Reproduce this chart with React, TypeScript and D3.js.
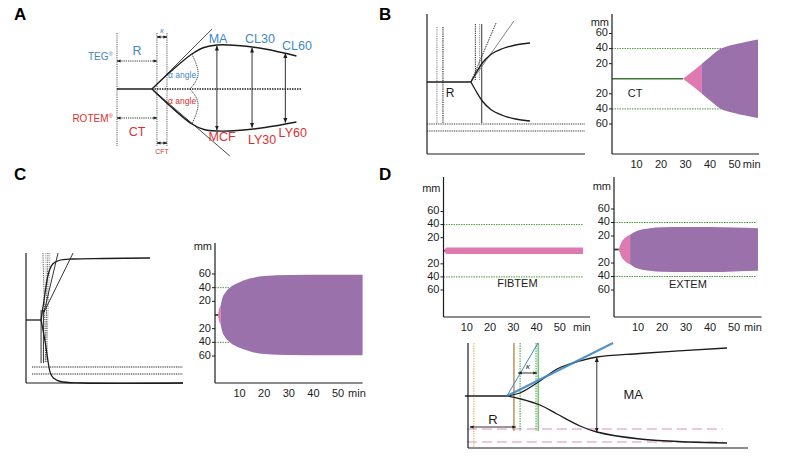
import React from 'react';
import * as d3 from 'd3';

const FONT = '"Liberation Sans", Arial, Helvetica, sans-serif';
const PURPLE = '#9a71aa';
const PINK = '#df79b1';
const GREEN_DOT = '#4c9a3c';
const GREEN_SOLID = '#3a7a30';
const BLUE = '#3f88c2';
const RED = '#d8322f';
const INK = '#1c1c1c';
const GREY = '#6a6a6a';

// ---------- Panel A (schematic units: x 0..100, amplitude -60..60) ----------
const aUpper: number[][] = [[18.9, 0], [29, 17.5], [40.5, 35], [47, 41.5], [54, 44], [65, 43.5], [80, 40], [97, 33]];
const aLower: number[][] = [[18.9, 0], [29, -17.5], [40.5, -35], [47, -40.5], [54, -42], [65, -41.5], [80, -38.5], [97, -33]];
const aTangentUp: number[][] = [[18.9, 0], [51.4, 60]];
const aTangentDown: number[][] = [[18.9, 0], [61, -67]];
const aArcUp: number[][] = [[40.5, 35], [43.8, 15], [39.5, 0]];
const aArcDown: number[][] = [[39.5, 0], [43.8, -15], [40.5, -35]];
const aVLines = [0, 21.6, 27];
const aArrows = [{ x: 54, top: 43, bottom: -41 }, { x: 73, top: 41, bottom: -38.5 }, { x: 91, top: 35.5, bottom: -33.5 }];
const aBlueLabels = [{ t: 'MA', x: 54.6, y: 49 }, { t: 'CL30', x: 77.3, y: 49 }, { t: 'CL60', x: 97.3, y: 42 }, { t: 'R', x: 10.8, y: 37 }];
const aRedLabels = [{ t: 'MCF', x: 56.8, y: -49 }, { t: 'LY30', x: 78.4, y: -51.5 }, { t: 'LY60', x: 95, y: -45 }, { t: 'CT', x: 10.8, y: -44 }];

// ---------- Panel B left ----------
const bUpper: number[][] = [[27.8, 0], [31, 9], [35, 19], [40, 27], [48, 33.5], [56, 37], [65.2, 39]];
const bLower: number[][] = bUpper.map(p => [p[0], -p[1]]);
const bDotted = [6.3, 10.1];
const bTangents: number[][][] = [[[27.8, 0], [43.7, 59]], [[27.8, 0], [55, 61]]];
const bHLines = [-42, -49];

// ---------- Panel C left ----------
const cUpper: number[][] = [[9.6, 0], [11.5, 20], [13.4, 40], [15, 50], [17, 56], [21, 59.5], [30, 61], [50, 61.5], [79, 62]];
const cLower: number[][] = [[9.6, 0], [12, -20], [13, -30], [14.2, -43], [15.5, -53], [17.5, -58], [22, -61.5], [36, -63], [100, -63]];
const cDotted: number[][][] = [[[10.8, 67], [12.7, -43]], [[12.6, 67], [13.6, -43]], [[14, 67], [12.2, -43]], [[15.2, 67], [13, -43]]];
const cTangents: number[][][] = [[[11.5, 8], [20.4, 67]], [[11.5, 8], [30, 67]]];
const cHLines = [-47, -54];

// ---------- Panel D bottom ----------
const dUpper: number[][] = [[13.9, 0], [18.9, 3.5], [25.7, 15], [31.8, 27], [40, 35], [46, 39], [61.4, 42.5], [92.5, 48]];
const dLower: number[][] = [[13.9, 0], [18.9, -3], [25.7, -9], [31.8, -18], [40, -30], [46, -36], [61.4, -43], [78.6, -46], [92.5, -47]];
const dBlueThin: number[][] = [[13.9, 0], [25, 53]];
const dBlueThick: number[][] = [[13.9, 0], [51.8, 53]];
const dPinkDash = [-33, -46];

// ---------- ROTEM traces (t in min, amplitude in mm) ----------
const bPinkT = [29, 33, 36.7];
const bPinkA = [0, 10, 20];
const bPurpleT = [36.7, 40, 44, 49.4, 55, 59.6];
const bPurpleA = [20, 29, 39, 45, 49, 52];

const cPinkT = [1.2, 1.6, 2.3];
const cPinkA = [0, 8, 14];
const cPurpleT = [2.3, 3, 4, 6, 10, 15, 20, 30, 45, 60];
const cPurpleA = [14, 25, 32, 40, 48, 54, 57, 58.5, 59, 59];

const fibPinkT = [0.4, 0.8, 1.5, 60];
const fibPinkA = [0, 3.5, 4.8, 5];

const extPinkT = [2, 3, 4.5, 6.7];
const extPinkA = [0, 10, 17, 22];
const extPurpleT = [6.7, 8, 10, 15, 20, 30, 40, 50, 60];
const extPurpleA = [22, 25, 28, 31.5, 33, 33.5, 33.5, 32.5, 31.5];

const yTicks = [60, 40, 20, -20, -40, -60];
const xTicks = [10, 20, 30, 40, 50];

const zip = (t: number[], a: number[]) => t.map((v, i) => ({ t: v, a: a[i] }));

function path(pts: number[][], xs: any, ys: any, curve: any = d3.curveLinear) {
  return d3.line<number[]>().x(d => xs(d[0])).y(d => ys(d[1])).curve(curve)(pts) || '';
}

type TemCfg = {
  left: number; right: number; axisTop: number; axisBottom: number; y60: number; yM60: number;
  mmY: number; axisEnd: number; minAt: number; greenEnd: number; stubEnd: number; stubGreen?: number;
  label?: string; labelT?: number; labelA?: number;
};

function Tem({ cfg, pink, purple }: { cfg: TemCfg; pink: { t: number; a: number }[]; purple?: { t: number; a: number }[] }) {
  const x = d3.scaleLinear().domain([0, 60]).range([cfg.left, cfg.right]);
  const y = d3.scaleLinear().domain([-60, 60]).range([cfg.yM60, cfg.y60]);
  const area = d3.area<{ t: number; a: number }>().x(d => x(d.t)).y0(d => y(-d.a)).y1(d => y(d.a)).curve(d3.curveMonotoneX);
  return (
    <g fontFamily={FONT} fontSize={11} fill={INK}>
      {[40, -40].map(v => (
        <line key={v} x1={x(0)} x2={x(cfg.greenEnd)} y1={y(v)} y2={y(v)} stroke={GREEN_DOT} strokeWidth={1} strokeDasharray="1.5,1" />
      ))}
      {cfg.stubGreen ? (
        <line x1={x(0)} x2={x(cfg.stubGreen)} y1={y(0)} y2={y(0)} stroke={GREEN_SOLID} strokeWidth={1.6} />
      ) : null}
      <line x1={x(0)} x2={x(cfg.stubEnd)} y1={y(0)} y2={y(0)} stroke="#2d4a28" strokeWidth={1.8} />
      <path d={area(pink) || ''} fill={PINK} />
      {purple ? <path d={area(purple) || ''} fill={PURPLE} /> : null}
      <line x1={cfg.left} x2={cfg.left} y1={cfg.axisTop} y2={cfg.axisBottom} stroke={INK} strokeWidth={1.2} />
      <line x1={cfg.left} x2={x(cfg.axisEnd)} y1={cfg.axisBottom} y2={cfg.axisBottom} stroke={INK} strokeWidth={1.2} />
      <text x={cfg.left - 3} y={cfg.mmY} textAnchor="end" dominantBaseline="middle">mm</text>
      {yTicks.map(v => (
        <g key={v}>
          <line x1={cfg.left - 3} x2={cfg.left} y1={y(v)} y2={y(v)} stroke={INK} strokeWidth={1} />
          <text x={cfg.left - 4} y={y(v)} textAnchor="end" dominantBaseline="middle">{Math.abs(v)}</text>
        </g>
      ))}
      {xTicks.map(v => (
        <text key={v} x={x(v)} y={cfg.axisBottom + 11} textAnchor="middle" dominantBaseline="middle">{v}</text>
      ))}
      <text x={x(cfg.minAt)} y={cfg.axisBottom + 11} textAnchor="middle" dominantBaseline="middle">min</text>
      {cfg.label ? (
        <text x={x(cfg.labelT!)} y={y(cfg.labelA!)} textAnchor="middle" dominantBaseline="middle">{cfg.label}</text>
      ) : null}
    </g>
  );
}

const cfgB: TemCfg = { left: 612, right: 759, axisTop: 14, axisBottom: 154, y60: 33.5, yM60: 124, mmY: 23, axisEnd: 60, minAt: 57, greenEnd: 46, stubEnd: 0, stubGreen: 29, label: 'CT', labelT: 9.4, labelA: -20 };
const cfgC: TemCfg = { left: 215, right: 362.6, axisTop: 243, axisBottom: 383, y60: 274, yM60: 356, mmY: 247, axisEnd: 60, minAt: 57.7, greenEnd: 6, stubEnd: 1.3 };
const cfgF: TemCfg = { left: 443.5, right: 583, axisTop: 177, axisBottom: 317, y60: 211.5, yM60: 290, mmY: 189, axisEnd: 63, minAt: 59.5, greenEnd: 60, stubEnd: 0.8, label: 'FIBTEM', labelT: 31.8, labelA: -51 };
const cfgE: TemCfg = { left: 614, right: 758, axisTop: 177, axisBottom: 317, y60: 209, yM60: 290, mmY: 187, axisEnd: 61.5, minAt: 57.9, greenEnd: 59, stubEnd: 2, label: 'EXTEM', labelT: 30.8, labelA: -52 };

function Markers() {
  return (
    <defs>
      <marker id="ah" viewBox="0 0 10 10" refX="9" refY="5" markerWidth="5" markerHeight="5" orient="auto-start-reverse" markerUnits="userSpaceOnUse">
        <path d="M0,1L10,5L0,9z" fill={INK} />
      </marker>
      <marker id="ahs" viewBox="0 0 10 10" refX="9" refY="5" markerWidth="4" markerHeight="4" orient="auto-start-reverse" markerUnits="userSpaceOnUse">
        <path d="M0,1L10,5L0,9z" fill={INK} />
      </marker>
    </defs>
  );
}

function PanelA() {
  const x = d3.scaleLinear().domain([0, 100]).range([117, 302]);
  const y = d3.scaleLinear().domain([-60, 60]).range([149, 29]);
  const cr = d3.curveCatmullRom.alpha(0.5);
  return (
    <g fontFamily={FONT}>
      {aVLines.map(v => (
        <line key={v} x1={x(v)} x2={x(v)} y1={y(56)} y2={y(-57)} stroke={GREY} strokeWidth={1.1} strokeDasharray="1.2,1" />
      ))}
      <line x1={x(0)} x2={x(18.9)} y1={y(0)} y2={y(0)} stroke={INK} strokeWidth={1.3} />
      <line x1={x(18.9)} x2={x(100)} y1={y(0)} y2={y(0)} stroke={INK} strokeWidth={1.3} strokeDasharray="1.5,1" />
      <path d={path(aTangentUp, x, y)} stroke={INK} strokeWidth={0.8} fill="none" />
      <path d={path(aTangentDown, x, y)} stroke={INK} strokeWidth={0.8} fill="none" />
      <path d={path(aUpper, x, y, cr)} stroke={INK} strokeWidth={1.4} fill="none" />
      <path d={path(aLower, x, y, cr)} stroke={INK} strokeWidth={1.4} fill="none" />
      <path d={path(aArcUp, x, y, d3.curveNatural)} stroke={INK} strokeWidth={0.8} strokeDasharray="1.2,0.8" fill="none" />
      <path d={path(aArcDown, x, y, d3.curveNatural)} stroke={INK} strokeWidth={0.8} strokeDasharray="1.2,0.8" fill="none" />
      {aArrows.map(a => (
        <line key={a.x} x1={x(a.x)} x2={x(a.x)} y1={y(a.top)} y2={y(a.bottom)} stroke={INK} strokeWidth={0.9} markerStart="url(#ah)" markerEnd="url(#ah)" />
      ))}
      <line x1={x(0)} x2={x(21.6)} y1={y(28)} y2={y(28)} stroke={INK} strokeWidth={0.9} strokeDasharray="1.2,1" markerStart="url(#ahs)" markerEnd="url(#ahs)" />
      <line x1={x(0)} x2={x(21.6)} y1={y(-29)} y2={y(-29)} stroke={INK} strokeWidth={0.9} strokeDasharray="1.2,1" markerStart="url(#ahs)" markerEnd="url(#ahs)" />
      <line x1={x(21.6)} x2={x(27)} y1={y(52)} y2={y(52)} stroke={INK} strokeWidth={0.8} markerStart="url(#ahs)" markerEnd="url(#ahs)" />
      <line x1={x(21.6)} x2={x(27)} y1={y(-54)} y2={y(-54)} stroke={INK} strokeWidth={0.8} markerStart="url(#ahs)" markerEnd="url(#ahs)" />
      {aBlueLabels.map(l => (
        <text key={l.t} x={x(l.x)} y={y(l.y)} fill={BLUE} fontSize={12.5} textAnchor="middle" dominantBaseline="middle">{l.t}</text>
      ))}
      {aRedLabels.map(l => (
        <text key={l.t} x={x(l.x)} y={y(l.y)} fill={RED} fontSize={12.5} textAnchor="middle" dominantBaseline="middle">{l.t}</text>
      ))}
      <text x={x(-2.2)} y={y(32)} fill={BLUE} fontSize={10} textAnchor="end" dominantBaseline="middle">TEG<tspan fontSize={6} dy={-3}>®</tspan></text>
      <text x={x(-2.2)} y={y(-30)} fill={RED} fontSize={10} textAnchor="end" dominantBaseline="middle">ROTEM<tspan fontSize={6} dy={-3}>®</tspan></text>
      <text x={x(27.6)} y={y(13)} fill={BLUE} fontSize={8.5} dominantBaseline="middle">α angle</text>
      <text x={x(27.6)} y={y(-13)} fill={RED} fontSize={8.5} dominantBaseline="middle">α angle</text>
      <text x={x(24.3)} y={y(57.5)} fill={BLUE} fontSize={7} fontStyle="italic" textAnchor="middle" dominantBaseline="middle">κ</text>
      <text x={x(24.3)} y={y(-63)} fill={RED} fontSize={7} textAnchor="middle" dominantBaseline="middle">CFT</text>
    </g>
  );
}

function PanelBLeft() {
  const x = d3.scaleLinear().domain([0, 100]).range([427, 585]);
  const y = d3.scaleLinear().domain([-60, 60]).range([142, 22]);
  const mc = d3.curveMonotoneX;
  return (
    <g fontFamily={FONT}>
      {bHLines.map(v => (
        <line key={v} x1={x(0)} x2={x(100)} y1={y(v)} y2={y(v)} stroke="#777" strokeWidth={1.6} strokeDasharray="1,0.8" />
      ))}
      <line x1={x(bDotted[0])} x2={x(bDotted[0])} y1={y(55)} y2={y(-41)} stroke="#888" strokeWidth={1.1} strokeDasharray="1.2,1" />
      <line x1={x(bDotted[1])} x2={x(bDotted[1])} y1={y(55)} y2={y(-41)} stroke={INK} strokeWidth={1.1} strokeDasharray="1.2,1" />
      <line x1={x(30.6)} x2={x(30.6)} y1={y(58)} y2={y(2)} stroke={INK} strokeWidth={1} strokeDasharray="1.2,1" />
      <line x1={x(33.3)} x2={x(33.3)} y1={y(58)} y2={y(2)} stroke="#888" strokeWidth={1} strokeDasharray="1.2,1" />
      <line x1={x(34.6)} x2={x(34.6)} y1={y(58)} y2={y(-41)} stroke="#555" strokeWidth={1.2} />
      <path d={path(bTangents[0], x, y)} stroke={INK} strokeWidth={0.9} strokeDasharray="1.5,1" fill="none" />
      <path d={path(bTangents[1], x, y)} stroke="#777" strokeWidth={0.9} fill="none" />
      <line x1={x(0)} x2={x(27.8)} y1={y(0)} y2={y(0)} stroke={INK} strokeWidth={1.3} />
      <path d={path(bUpper, x, y, mc)} stroke={INK} strokeWidth={1.3} fill="none" />
      <path d={path(bLower, x, y, mc)} stroke={INK} strokeWidth={1.3} fill="none" />
      <text x={x(14.6)} y={y(-12)} fontSize={12} fill={INK} textAnchor="middle" dominantBaseline="middle">R</text>
      <line x1={x(0)} x2={x(0)} y1={y(68)} y2={y(-72)} stroke={INK} strokeWidth={1.2} />
      <line x1={x(0)} x2={x(100)} y1={y(-72)} y2={y(-72)} stroke={INK} strokeWidth={1.2} />
    </g>
  );
}

function PanelCLeft() {
  const x = d3.scaleLinear().domain([0, 100]).range([26, 183]);
  const y = d3.scaleLinear().domain([-60, 60]).range([380, 260]);
  return (
    <g>
      {cHLines.map(v => (
        <line key={v} x1={x(3.8)} x2={x(100)} y1={y(v)} y2={y(v)} stroke="#666" strokeWidth={1.5} strokeDasharray="1,0.8" />
      ))}
      {cDotted.map((l, i) => (
        <path key={i} d={path(l, x, y)} stroke={i % 2 ? '#999' : '#555'} strokeWidth={1} strokeDasharray="1.2,1" fill="none" />
      ))}
      {cTangents.map((l, i) => (
        <path key={i} d={path(l, x, y)} stroke={INK} strokeWidth={0.9} fill="none" />
      ))}
      <line x1={x(9.6)} x2={x(9.6)} y1={y(10)} y2={y(-43)} stroke={INK} strokeWidth={0.9} />
      <line x1={x(11.1)} x2={x(11.1)} y1={y(10)} y2={y(-43)} stroke={INK} strokeWidth={0.9} />
      <line x1={x(0)} x2={x(9.6)} y1={y(0)} y2={y(0)} stroke={INK} strokeWidth={1.3} />
      <path d={path(cUpper, x, y, d3.curveCatmullRom)} stroke={INK} strokeWidth={1.3} fill="none" />
      <path d={path(cLower, x, y, d3.curveCatmullRom)} stroke={INK} strokeWidth={1.3} fill="none" />
      <line x1={x(0)} x2={x(0)} y1={y(67)} y2={y(-63)} stroke={INK} strokeWidth={1.2} />
      <line x1={x(0)} x2={x(100)} y1={y(-63)} y2={y(-63)} stroke={INK} strokeWidth={1.2} />
    </g>
  );
}

function PanelDBottom() {
  const x = d3.scaleLinear().domain([0, 100]).range([468, 748]);
  const y = d3.scaleLinear().domain([-60, 60]).range([456, 336]);
  const cr = d3.curveCatmullRom;
  return (
    <g fontFamily={FONT}>
      {dPinkDash.map(v => (
        <line key={v} x1={x(-0.4)} x2={x(91)} y1={y(v)} y2={y(v)} stroke="#d792bd" strokeWidth={1.2} strokeDasharray="10,5" />
      ))}
      <line x1={x(2.1)} x2={x(2.1)} y1={y(53)} y2={y(-52)} stroke="#e6a85a" strokeWidth={1} strokeDasharray="1.5,1" />
      <line x1={x(16.4)} x2={x(16.4)} y1={y(53)} y2={y(-35)} stroke="#c49a62" strokeWidth={1.6} />
      <line x1={x(18.6)} x2={x(18.6)} y1={y(53)} y2={y(-35)} stroke="#3c9a3c" strokeWidth={1} strokeDasharray="1.5,1" />
      <line x1={x(24.3)} x2={x(24.3)} y1={y(53)} y2={y(-35)} stroke="#3c9a3c" strokeWidth={1} strokeDasharray="1.5,1" />
      <line x1={x(25.1)} x2={x(25.1)} y1={y(53)} y2={y(-35)} stroke="#7cc07c" strokeWidth={1.6} />
      <path d={path(dBlueThin, x, y)} stroke={BLUE} strokeWidth={1} fill="none" />
      <line x1={x(0)} x2={x(0)} y1={y(53)} y2={y(-52)} stroke={INK} strokeWidth={1.2} />
      <line x1={x(0)} x2={x(100)} y1={y(-52)} y2={y(-52)} stroke={INK} strokeWidth={1.2} />
      <line x1={x(-1.1)} x2={x(13.9)} y1={y(0)} y2={y(0)} stroke={INK} strokeWidth={1.3} />
      <path d={path(dUpper, x, y, cr)} stroke={INK} strokeWidth={1.3} fill="none" />
      <path d={path(dLower, x, y, cr)} stroke={INK} strokeWidth={1.3} fill="none" />
      <path d={path(dBlueThick, x, y)} stroke={BLUE} strokeWidth={2.2} fill="none" opacity={0.9} />
      <line x1={x(17.9)} x2={x(24.6)} y1={y(23)} y2={y(23)} stroke={INK} strokeWidth={0.9} markerStart="url(#ahs)" markerEnd="url(#ahs)" />
      <text x={x(21.4)} y={y(29)} fontSize={8} fontStyle="italic" fill={INK} textAnchor="middle" dominantBaseline="middle">κ</text>
      <line x1={x(0.7)} x2={x(17.1)} y1={y(-31)} y2={y(-31)} stroke={INK} strokeWidth={0.9} markerStart="url(#ahs)" markerEnd="url(#ahs)" />
      <text x={x(8.9)} y={y(-24.5)} fontSize={13} fill={INK} textAnchor="middle" dominantBaseline="middle">R</text>
      <line x1={x(46)} x2={x(46)} y1={y(38.5)} y2={y(-36)} stroke={INK} strokeWidth={0.9} markerStart="url(#ah)" markerEnd="url(#ah)" />
      <text x={x(59)} y={y(0)} fontSize={13} fill={INK} textAnchor="middle" dominantBaseline="middle">MA</text>
    </g>
  );
}

export default function App() {
  return (
    <svg width={788} height={457} viewBox="0 0 788 457" style={{ position: 'absolute', left: 0, top: 0, background: '#fff' }}>
      <Markers />
      <rect x={0} y={0} width={788} height={457} fill="#fff" />
      <g fontFamily={FONT} fontWeight="bold" fontSize={17} fill="#000">
        <text x={14} y={20}>A</text>
        <text x={379} y={20}>B</text>
        <text x={14} y={180}>C</text>
        <text x={379} y={180}>D</text>
      </g>
      <PanelA />
      <PanelBLeft />
      <Tem cfg={cfgB} pink={zip(bPinkT, bPinkA)} purple={zip(bPurpleT, bPurpleA)} />
      <PanelCLeft />
      <Tem cfg={cfgC} pink={zip(cPinkT, cPinkA)} purple={zip(cPurpleT, cPurpleA)} />
      <Tem cfg={cfgF} pink={zip(fibPinkT, fibPinkA)} />
      <Tem cfg={cfgE} pink={zip(extPinkT, extPinkA)} purple={zip(extPurpleT, extPurpleA)} />
      <PanelDBottom />
    </svg>
  );
}
